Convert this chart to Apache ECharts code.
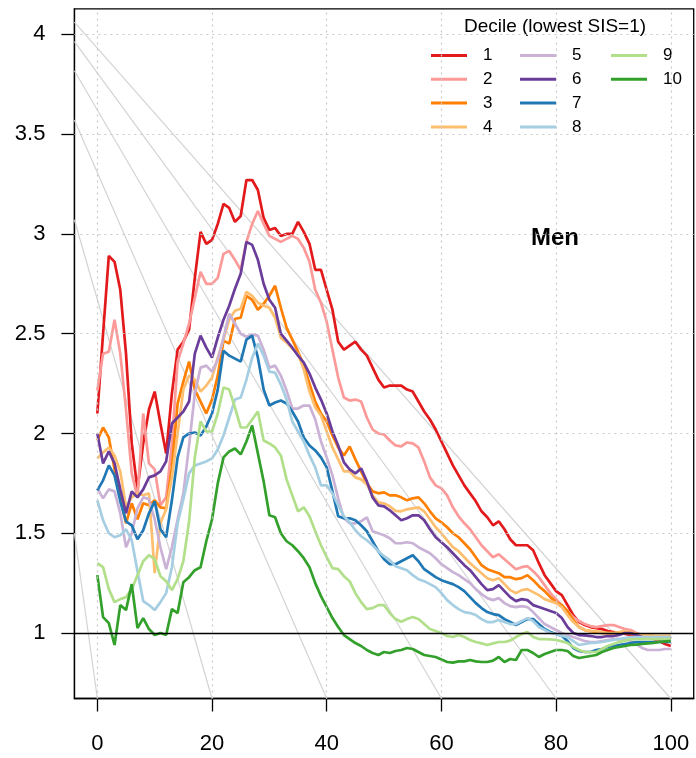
<!DOCTYPE html>
<html>
<head>
<meta charset="utf-8">
<script src="https://cdn.jsdelivr.net/npm/echarts@6/dist/echarts.min.js"></script>
<style>
  html, body { margin: 0; padding: 0; background: #ffffff; }
  #chart { width: 696px; height: 758px; }
</style>
</head>
<body>
<div id="chart"></div>
<script>
// Relative risk by age for each decile of the socioeconomic index (Men)
const ages = Array.from({ length: 101 }, (_, i) => i);

const decile1 = [2.10,2.50,2.89,2.86,2.72,2.40,1.95,1.72,1.95,2.12,2.21,2.05,1.90,2.20,2.42,2.46,2.52,2.78,3.01,2.95,
  2.97,3.05,3.15,3.13,3.06,3.09,3.27,3.27,3.22,3.08,3.02,3.03,2.99,3.00,3.00,3.06,3.01,2.95,2.82,2.82,
  2.72,2.62,2.46,2.42,2.44,2.46,2.42,2.39,2.33,2.27,2.23,2.24,2.24,2.24,2.22,2.21,2.16,2.11,2.07,2.02,
  1.96,1.90,1.84,1.79,1.74,1.70,1.66,1.61,1.58,1.54,1.56,1.52,1.47,1.44,1.44,1.44,1.415,1.35,1.29,1.25,
  1.21,1.19,1.14,1.09,1.055,1.04,1.03,1.025,1.02,1.01,1.005,1.0,0.995,0.99,0.985,0.98,0.975,0.97,0.96,0.945,0.935];
const decile2 = [2.215,2.40,2.41,2.57,2.40,2.12,1.80,1.68,2.10,1.85,1.82,1.64,1.68,1.95,2.36,2.45,2.55,2.68,2.81,2.75,
  2.75,2.78,2.90,2.915,2.87,2.82,2.96,3.05,3.115,3.05,2.99,2.975,2.96,2.975,2.99,2.975,2.93,2.86,2.72,2.655,
  2.56,2.42,2.28,2.18,2.165,2.17,2.16,2.08,2.02,2.00,1.995,1.965,1.94,1.935,1.955,1.95,1.93,1.86,1.78,1.74,
  1.725,1.69,1.63,1.585,1.55,1.52,1.48,1.44,1.41,1.38,1.395,1.37,1.345,1.32,1.33,1.335,1.31,1.28,1.24,1.20,
  1.17,1.14,1.11,1.08,1.06,1.045,1.035,1.03,1.035,1.04,1.04,1.03,1.02,1.015,1.0,0.99,0.985,0.98,0.975,0.97,0.97];
const decile3 = [1.965,2.03,1.98,1.82,1.68,1.55,1.65,1.57,1.65,1.64,1.665,1.63,1.625,1.83,2.15,2.26,2.36,2.22,2.16,2.10,
  2.17,2.29,2.465,2.45,2.575,2.58,2.69,2.67,2.62,2.65,2.69,2.74,2.63,2.53,2.47,2.41,2.34,2.25,2.16,2.10,
  2.06,1.99,1.93,1.89,1.935,1.87,1.81,1.75,1.71,1.70,1.705,1.69,1.69,1.68,1.665,1.675,1.68,1.65,1.61,1.575,
  1.555,1.53,1.50,1.48,1.45,1.42,1.38,1.34,1.32,1.31,1.30,1.28,1.28,1.27,1.275,1.29,1.265,1.235,1.21,1.18,
  1.155,1.14,1.11,1.065,1.03,1.015,1.01,1.005,1.0,1.0,1.0,1.0,1.0,1.0,0.995,0.99,0.99,0.985,0.985,0.985,0.985];
const decile4 = [1.875,1.905,1.93,1.89,1.81,1.63,1.68,1.70,1.69,1.70,1.30,1.55,1.62,1.78,2.0,2.22,2.29,2.27,2.21,2.24,
  2.28,2.38,2.47,2.57,2.615,2.625,2.71,2.69,2.655,2.64,2.63,2.58,2.48,2.455,2.425,2.40,2.32,2.21,2.13,2.09,
  2.01,1.93,1.87,1.81,1.81,1.78,1.77,1.745,1.69,1.655,1.65,1.635,1.612,1.61,1.62,1.625,1.63,1.61,1.57,1.53,
  1.50,1.465,1.43,1.41,1.38,1.35,1.325,1.30,1.275,1.265,1.275,1.245,1.215,1.20,1.215,1.22,1.205,1.19,1.17,1.16,
  1.15,1.13,1.09,1.055,1.03,1.015,1.01,1.01,1.005,1.0,1.0,1.005,1.01,1.005,0.995,0.99,0.99,0.985,0.985,0.985,0.985];
const decile5 = [1.725,1.675,1.72,1.71,1.60,1.43,1.50,1.625,1.68,1.67,1.57,1.43,1.32,1.43,1.57,1.70,1.94,2.20,2.33,2.34,
  2.31,2.37,2.48,2.60,2.55,2.50,2.485,2.495,2.49,2.42,2.33,2.34,2.29,2.215,2.125,2.125,2.14,2.14,2.07,1.96,
  1.88,1.79,1.675,1.575,1.55,1.55,1.56,1.58,1.51,1.50,1.49,1.475,1.45,1.45,1.455,1.45,1.43,1.415,1.40,1.375,
  1.345,1.325,1.305,1.29,1.27,1.25,1.22,1.195,1.175,1.165,1.175,1.15,1.135,1.13,1.135,1.13,1.105,1.075,1.045,1.03,
  1.015,1.0,0.99,0.98,0.97,0.96,0.955,0.955,0.96,0.965,0.97,0.97,0.97,0.96,0.945,0.925,0.915,0.915,0.915,0.92,0.92];
const decile6 = [2.0,1.85,1.91,1.85,1.72,1.60,1.71,1.68,1.72,1.78,1.79,1.81,1.86,2.05,2.08,2.11,2.16,2.40,2.49,2.43,
  2.38,2.48,2.57,2.64,2.725,2.80,2.96,2.945,2.87,2.75,2.67,2.63,2.50,2.465,2.43,2.39,2.355,2.30,2.23,2.17,
  2.10,2.01,1.94,1.855,1.82,1.80,1.825,1.76,1.68,1.64,1.635,1.615,1.59,1.565,1.575,1.59,1.59,1.565,1.52,1.48,
  1.455,1.43,1.40,1.37,1.34,1.315,1.28,1.245,1.215,1.22,1.24,1.21,1.18,1.16,1.17,1.165,1.14,1.13,1.12,1.11,
  1.10,1.075,1.03,1.0,0.99,0.988,0.985,0.98,0.98,0.985,0.985,0.99,1.0,1.0,0.99,0.98,0.975,0.975,0.97,0.97,0.97];
const decile7 = [1.715,1.765,1.84,1.79,1.66,1.56,1.54,1.47,1.515,1.60,1.66,1.52,1.48,1.665,1.88,1.98,2.0,2.005,1.99,2.035,
  2.10,2.22,2.415,2.39,2.375,2.36,2.47,2.49,2.38,2.22,2.14,2.155,2.165,2.15,2.11,2.06,1.98,1.94,1.915,1.88,
  1.83,1.71,1.585,1.575,1.575,1.565,1.54,1.51,1.46,1.41,1.37,1.345,1.345,1.36,1.375,1.39,1.36,1.32,1.30,1.28,
  1.265,1.255,1.245,1.23,1.21,1.18,1.15,1.125,1.105,1.095,1.09,1.07,1.055,1.04,1.055,1.07,1.07,1.045,1.02,1.005,
  0.995,0.985,0.96,0.925,0.91,0.905,0.905,0.915,0.92,0.93,0.935,0.94,0.945,0.95,0.955,0.955,0.955,0.955,0.955,0.955,0.955];
const decile8 = [1.665,1.565,1.50,1.48,1.49,1.52,1.465,1.31,1.16,1.14,1.115,1.155,1.20,1.33,1.55,1.67,1.80,1.84,1.85,1.86,
  1.875,1.92,1.99,2.08,2.17,2.18,2.27,2.38,2.45,2.39,2.31,2.305,2.245,2.17,2.06,2.01,1.96,1.89,1.83,1.74,
  1.74,1.70,1.64,1.585,1.555,1.515,1.485,1.465,1.44,1.41,1.385,1.365,1.335,1.325,1.315,1.29,1.27,1.26,1.245,1.23,
  1.20,1.165,1.14,1.12,1.105,1.10,1.09,1.07,1.055,1.055,1.065,1.055,1.045,1.045,1.06,1.075,1.06,1.03,1.015,1.0,
  0.995,0.985,0.98,0.96,0.94,0.945,0.95,0.952,0.955,0.96,0.965,0.97,0.975,0.98,0.98,0.98,0.98,0.98,0.98,0.98,0.98];
const decile9 = [1.35,1.33,1.22,1.155,1.17,1.18,1.22,1.29,1.36,1.39,1.37,1.285,1.26,1.215,1.27,1.36,1.56,1.88,2.06,2.01,
  2.01,2.10,2.23,2.22,2.13,2.03,2.03,2.07,2.11,1.965,1.95,1.93,1.89,1.77,1.69,1.61,1.63,1.585,1.51,1.44,
  1.38,1.325,1.32,1.285,1.26,1.20,1.155,1.12,1.125,1.14,1.14,1.10,1.07,1.057,1.07,1.08,1.07,1.045,1.02,1.01,
  1.0,0.985,0.98,0.99,0.98,0.965,0.955,0.948,0.94,0.948,0.955,0.955,0.962,0.98,0.995,1.005,0.98,0.97,0.97,0.968,
  0.965,0.958,0.95,0.93,0.915,0.905,0.905,0.905,0.92,0.935,0.945,0.955,0.962,0.968,0.97,0.97,0.97,0.97,0.97,0.97,0.97];
const decile10 = [1.29,1.08,1.05,0.94,1.14,1.115,1.245,1.025,1.075,1.02,0.99,1.0,0.99,1.12,1.10,1.255,1.28,1.315,1.33,1.46,
  1.57,1.75,1.88,1.91,1.925,1.895,1.96,2.04,1.90,1.76,1.59,1.58,1.50,1.46,1.44,1.41,1.375,1.33,1.25,1.185,
  1.13,1.075,1.03,0.99,0.97,0.95,0.935,0.915,0.90,0.89,0.905,0.90,0.91,0.915,0.925,0.92,0.905,0.89,0.885,0.88,
  0.868,0.855,0.852,0.858,0.858,0.865,0.858,0.855,0.855,0.862,0.88,0.855,0.87,0.865,0.915,0.915,0.90,0.88,0.895,0.905,
  0.915,0.915,0.91,0.885,0.875,0.88,0.885,0.89,0.905,0.915,0.925,0.93,0.935,0.94,0.942,0.945,0.948,0.95,0.955,0.958,0.96];

const decileValues = [decile1, decile2, decile3, decile4, decile5, decile6, decile7, decile8, decile9, decile10];
const decileNames = ['1', '2', '3', '4', '5', '6', '7', '8', '9', '10'];
const decileColors = ['#E31A1C', '#FB9A99', '#FF7F00', '#FDBF6F', '#CAB2D6',
                      '#6A3D9A', '#1F78B4', '#A6CEE3', '#B2DF8A', '#33A02C'];

const xTicks = [0, 20, 40, 60, 80, 100];
const yTicks = [1, 1.5, 2, 2.5, 3, 3.5, 4];

// Grey guide lines fanning out from one point above the top-left corner
const fanEndX = [0, 20, 40, 60, 80, 100];
const fanOrigin = [-18.7, 4.54];

const X_MIN = -4, X_MAX = 104, Y_MIN = 0.672, Y_MAX = 4.128;
const FONT = '"Liberation Sans", Arial, Helvetica, sans-serif';

function fanSegment(endX) {
  const slope = (fanOrigin[1] - Y_MIN) / (endX - fanOrigin[0]);
  let x0 = X_MIN;
  let y0 = Y_MIN + slope * (endX - X_MIN);
  if (y0 > Y_MAX) {
    y0 = Y_MAX;
    x0 = endX - (Y_MAX - Y_MIN) / slope;
  }
  return [[x0, y0], [endX, Y_MIN]];
}

const series = [];

fanEndX.forEach((ex, i) => {
  series.push({
    type: 'line',
    silent: true,
    showSymbol: false,
    data: fanSegment(ex),
    lineStyle: { color: '#d3d3d3', width: 1.2 },
    z: 1,
    animation: false,
    markLine: i === 0 ? {
      silent: true,
      symbol: 'none',
      label: { show: false },
      lineStyle: { color: '#c8c8c8', width: 1.2, type: [2, 4] },
      data: xTicks.map(v => ({ xAxis: v })).concat(
            yTicks.filter(v => v !== 1).map(v => ({ yAxis: v })))
    } : undefined
  });
});

decileValues.forEach((vals, i) => {
  series.push({
    name: decileNames[i],
    type: 'line',
    showSymbol: false,
    data: ages.map((a, j) => [a, vals[j]]),
    lineStyle: { color: decileColors[i], width: 2.7 },
    itemStyle: { color: decileColors[i] },
    emphasis: { disabled: true },
    z: 2,
    animation: false
  });
});

// Reference line at a risk ratio of 1
series.push({
  type: 'line',
  silent: true,
  showSymbol: false,
  data: [],
  z: 5,
  markLine: {
    silent: true,
    symbol: 'none',
    label: { show: false },
    lineStyle: { color: '#000000', width: 1.3, type: 'solid' },
    data: [{ yAxis: 1 }]
  }
});

function legendColumn(names, left) {
  return {
    data: names,
    orient: 'vertical',
    left: left,
    top: 47,
    padding: 0,
    itemGap: 6.8,
    itemWidth: 36,
    itemHeight: 3,
    icon: 'rect',
    selectedMode: false,
    textStyle: { fontSize: 17, fontFamily: FONT, color: '#000', lineHeight: 17, padding: [0, 0, 0, 11] }
  };
}

const chart = echarts.init(document.getElementById('chart'), null, { renderer: 'canvas' });
chart.setOption({
  backgroundColor: '#ffffff',
  animation: false,
  grid: {
    left: 74.4, top: 8.8, width: 619.3, height: 689.7,
    show: true, borderColor: '#000000', borderWidth: 1.3, backgroundColor: 'transparent'
  },
  xAxis: {
    type: 'value', min: X_MIN, max: X_MAX,
    splitLine: { show: false },
    axisLine: { show: true, onZero: false, lineStyle: { color: '#000', width: 1.3 } },
    axisTick: { show: true, length: 13, customValues: xTicks, lineStyle: { color: '#000', width: 1.3 } },
    axisLabel: { customValues: xTicks, fontSize: 22, fontFamily: FONT, color: '#000', margin: 34 }
  },
  yAxis: {
    type: 'value', min: Y_MIN, max: Y_MAX,
    splitLine: { show: false },
    axisLine: { show: true, onZero: false, lineStyle: { color: '#000', width: 1.3 } },
    axisTick: { show: true, length: 13, customValues: yTicks, lineStyle: { color: '#000', width: 1.3 } },
    axisLabel: { customValues: yTicks, fontSize: 22, fontFamily: FONT, color: '#000', margin: 29 }
  },
  legend: [
    legendColumn(decileNames.slice(0, 4), 431),
    legendColumn(decileNames.slice(4, 8), 520),
    legendColumn(decileNames.slice(8, 10), 611)
  ],
  graphic: [
    {
      type: 'text', x: 555, y: 27,
      style: { text: 'Decile (lowest SIS=1)', font: '19px ' + FONT, fill: '#000', align: 'center', verticalAlign: 'middle' }
    },
    {
      type: 'text', x: 555, y: 238,
      style: { text: 'Men', font: 'bold 24px ' + FONT, fill: '#000', align: 'center', verticalAlign: 'middle' }
    }
  ],
  series: series
});
</script>
</body>
</html>
